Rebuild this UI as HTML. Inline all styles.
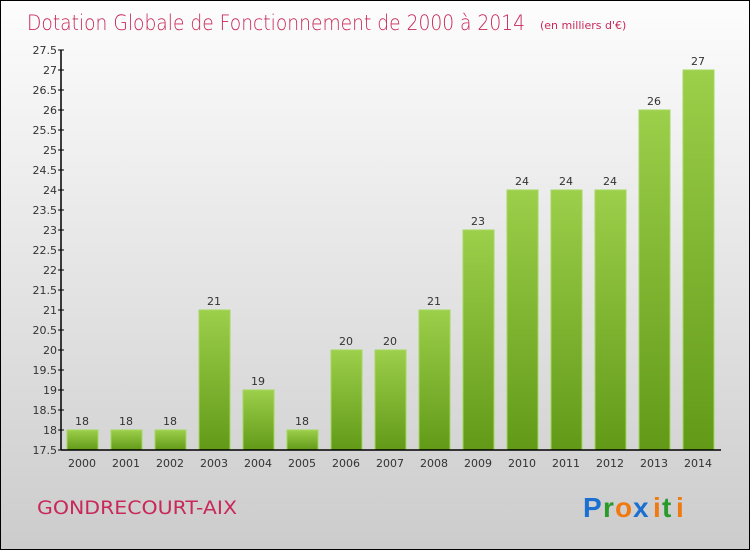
<!DOCTYPE html>
<html><head><meta charset="utf-8">
<style>
html,body{margin:0;padding:0}
body{width:750px;height:550px;overflow:hidden;font-family:"DejaVu Sans","Liberation Sans",sans-serif}
#wrap{position:absolute;left:0;top:0;width:748px;height:548px;border:1px solid #000;background:linear-gradient(#fdfdfd,#cccccc)}
</style></head>
<body>
<div id="wrap">
<svg id="chart" width="748" height="548">
<defs>
<linearGradient id="bg" x1="0" y1="0" x2="0" y2="1">
<stop offset="0" stop-color="#9ccf4a"/><stop offset="1" stop-color="#629a18"/>
</linearGradient>
</defs>
<text x="26" y="29" font-size="21" fill="#c8285a" font-family="DejaVu Sans,sans-serif" font-weight="200" textLength="498" lengthAdjust="spacingAndGlyphs">Dotation Globale de Fonctionnement de 2000 à 2014</text>
<text x="539" y="28" font-size="11" fill="#c8285a">(en milliers d'€)</text>
<text x="36" y="513" font-size="19" fill="#c8285a" textLength="200" lengthAdjust="spacingAndGlyphs">GONDRECOURT-AIX</text>
<g font-family="Liberation Sans,sans-serif" font-size="28" font-weight="bold">
<text x="582" y="516" fill="#1a6fd0">P</text><text x="602" y="516" fill="#2a9a2a">r</text><text x="614" y="516" fill="#f07a10">o</text><text x="632" y="516" fill="#1a6fd0">x</text><text x="652" y="516" fill="#f07a10">i</text><text x="661" y="516" fill="#2a9a2a">t</text><text x="675" y="516" fill="#f07a10">i</text>
</g>
<g id="plot"></g>
</svg>
</div>
<script>
const years=["2000","2001","2002","2003","2004","2005","2006","2007","2008","2009","2010","2011","2012","2013","2014"];
const values=[18,18,18,21,19,18,20,20,21,23,24,24,24,26,27];
const yTicks=[17.5,18,18.5,19,19.5,20,20.5,21,21.5,22,22.5,23,23.5,24,24.5,25,25.5,26,26.5,27,27.5];
const yMin=17.5,yMax=27.5,plotTop=49,plotBottom=449,plotLeft=60,plotRight=720;
const ys=v=>plotBottom-(v-yMin)/(yMax-yMin)*(plotBottom-plotTop);
const xs=i=>81+i*44;
const NS="http://www.w3.org/2000/svg";
const g=document.getElementById('plot');
function mk(t,a){const e=document.createElementNS(NS,t);for(const k in a)e.setAttribute(k,a[k]);g.appendChild(e);return e;}
values.forEach((v,i)=>{
 const r=mk('rect',{x:xs(i)-15,y:ys(v),width:31,height:plotBottom-ys(v),fill:'url(#bg)',stroke:'#a4d860','stroke-width':1});
 
 
 const t=mk('text',{x:xs(i),y:ys(v)-5,'font-size':11,fill:'#333','text-anchor':'middle'});
 t.textContent=v;
 
 
 const xl=mk('text',{x:xs(i),y:plotBottom+17,'font-size':11,fill:'#333','text-anchor':'middle'});
 xl.textContent=years[i];
 
 
});
yTicks.forEach(v=>{
 mk('line',{x1:plotLeft-3,x2:plotLeft+3,y1:ys(v),y2:ys(v),stroke:'#000'});
 const t=mk('text',{x:plotLeft-4,y:ys(v)+4,'font-size':11,fill:'#333','text-anchor':'end'});
 t.textContent=v;
 
 
});
const ya=mk('line',{x1:plotLeft,x2:plotLeft,y1:plotTop,y2:plotBottom,stroke:'#000','stroke-width':1.5});


const xa=mk('line',{x1:plotLeft,x2:plotRight,y1:plotBottom,y2:plotBottom,stroke:'#000','stroke-width':1.5});


</script>
</body></html>
